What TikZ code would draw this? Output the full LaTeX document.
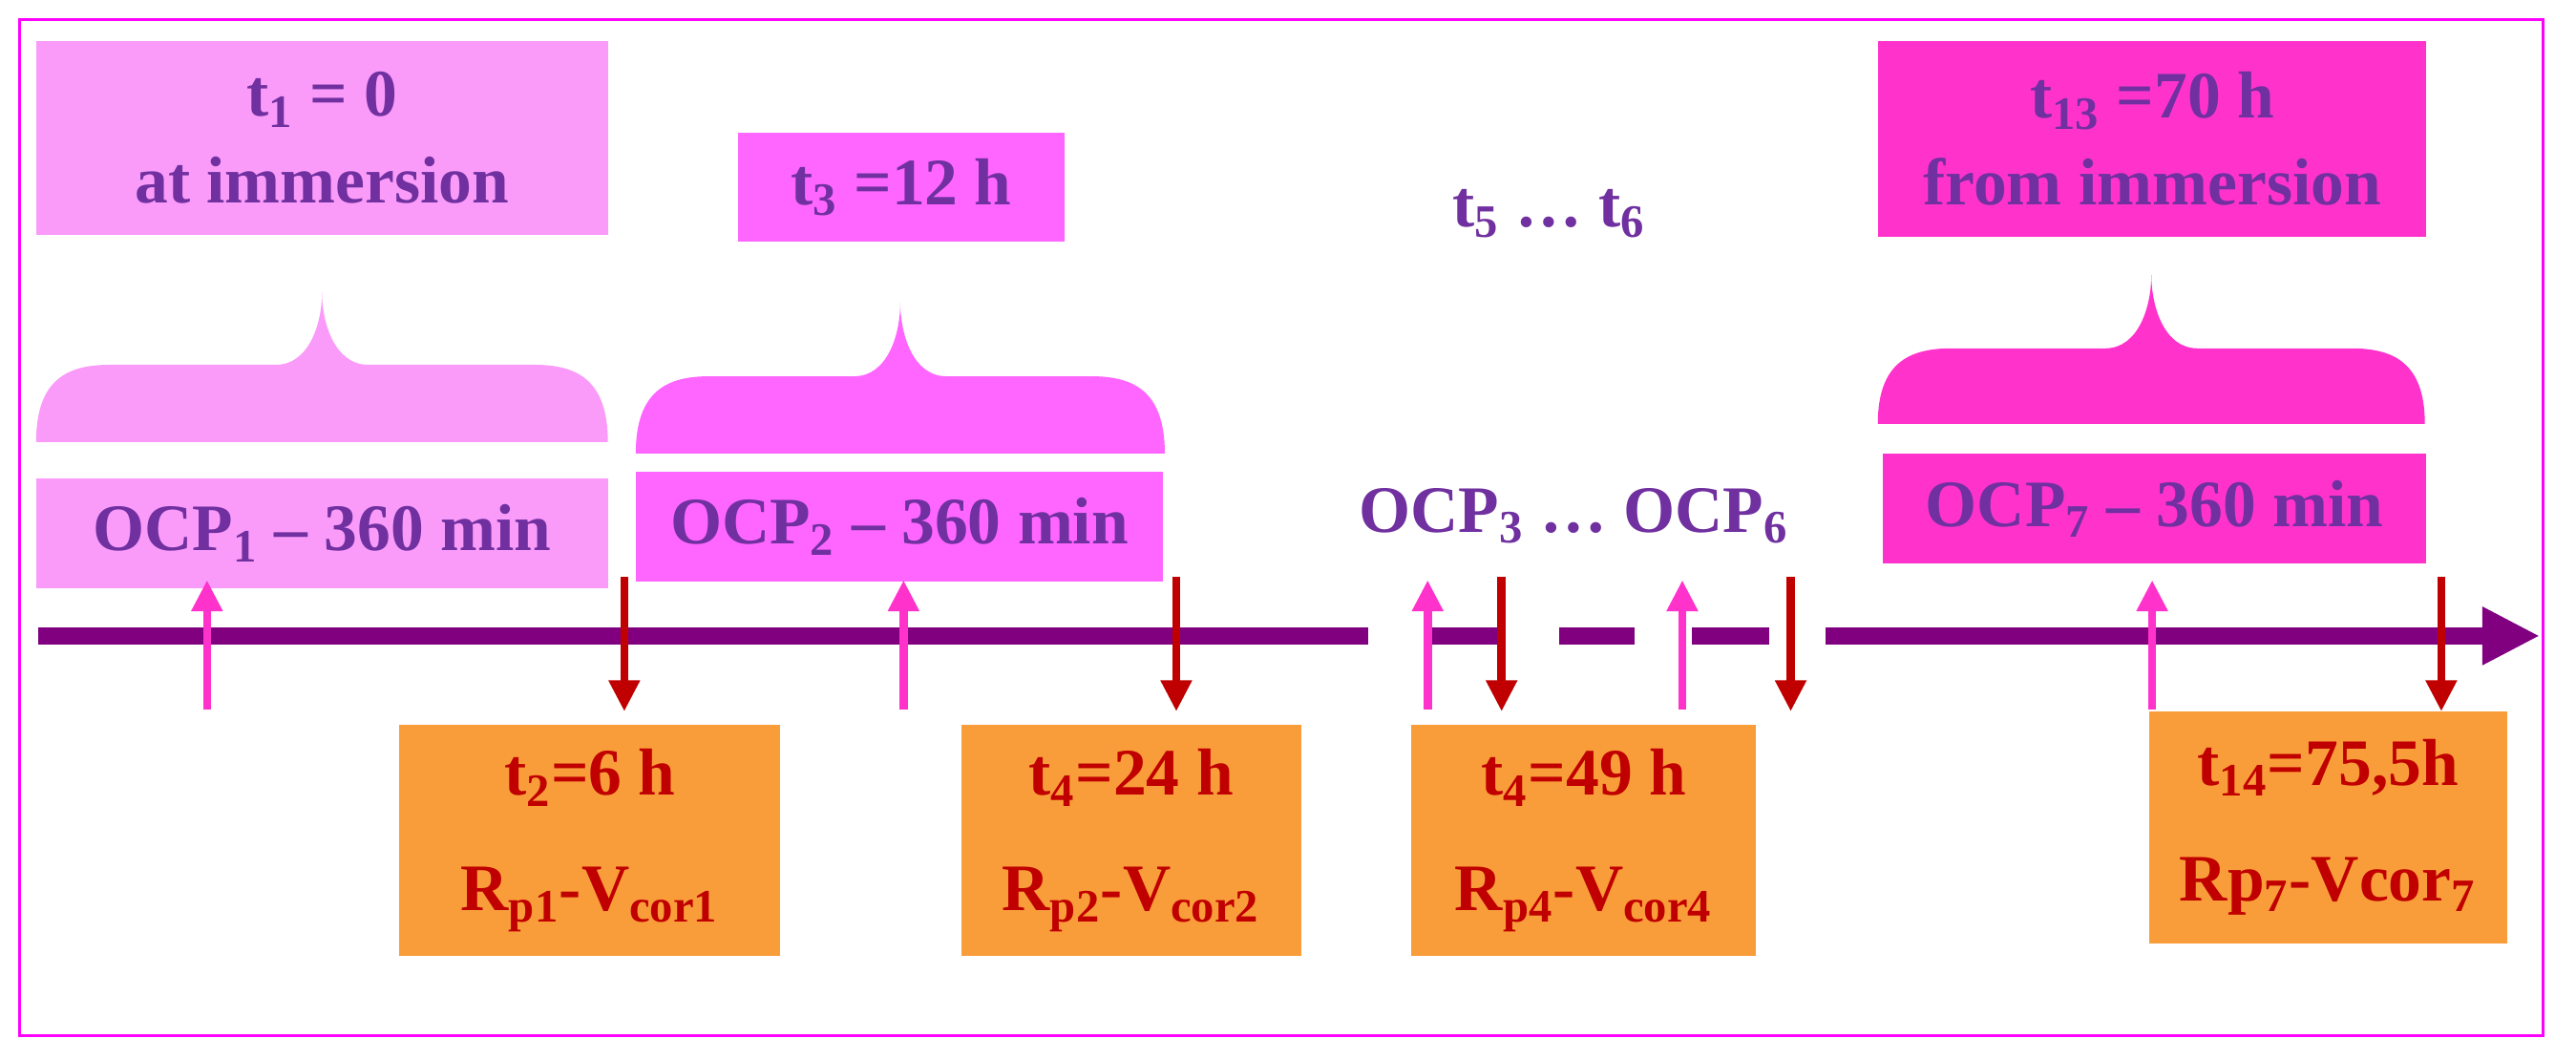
\documentclass[tikz,border=0pt]{standalone}
\usepackage{fontspec}
\setmainfont{Liberation Serif}
\usetikzlibrary{arrows.meta}
\definecolor{frameC}{HTML}{FF00FF}
\definecolor{lightP}{HTML}{FA9BF9}
\definecolor{midP}{HTML}{FF66FF}
\definecolor{hotP}{HTML}{FF33CC}
\definecolor{orangeC}{HTML}{F99D3A}
\definecolor{purpT}{HTML}{7030A0}
\definecolor{redT}{HTML}{C00000}
\definecolor{axisC}{HTML}{800080}
\tikzset{
  boxx/.style={inner sep=0pt, align=center, text=purpT, font=\bfseries\fontsize{23}{30}\selectfont},
  obox/.style={inner sep=0pt, align=center, fill=orangeC, text=redT, font=\bfseries\fontsize{23}{40}\selectfont, minimum height=2.82cm},
  uparr/.style={draw=hotP, line width=2.8pt, -{Triangle[width=0.36cm,length=0.38cm]}},
  dnarr/.style={draw=redT, line width=2.8pt, -{Triangle[width=0.36cm,length=0.38cm]}},
  axisl/.style={draw=axisC, line width=5.7pt},
  ptxt/.style={text=purpT, font=\bfseries\fontsize{23}{30}\selectfont, inner sep=0pt}
}
\newcommand{\mybrace}[6]{% fill, x0, x1, ytip, ytop, ybot
  \fill[#1] (#2,#6) .. controls (#2,#5+8) and (#2+20,#5) .. (#2+45,#5)
    -- ({(#2+#3)/2-28},#5) .. controls ({(#2+#3)/2-8},#5) and ({(#2+#3)/2},#5-25) .. ({(#2+#3)/2},#4)
    .. controls ({(#2+#3)/2},#5-25) and ({(#2+#3)/2+8},#5) .. ({(#2+#3)/2+28},#5)
    -- (#3-45,#5) .. controls (#3-20,#5) and (#3,#5+8) .. (#3,#6) -- cycle;}
\begin{document}
\begin{tikzpicture}[x=0.02cm,y=-0.02cm]
\useasboundingbox (0,0) rectangle (1568,645);
\draw[frameC, line width=1pt] (12,12) rectangle (1548,630);
% top boxes
\node[boxx, fill=lightP, minimum width=6.96cm, minimum height=2.36cm] (t1) at (196,84) {t\textsubscript{1} = 0\\at immersion};
\node[boxx, fill=midP, minimum width=3.98cm, minimum height=1.32cm] (t3) at (548.5,114) {t\textsubscript{3} =12 h};
\node[ptxt] (t56) at (943,130) {t\textsubscript{5} … t\textsubscript{6}};
\node[boxx, fill=hotP, minimum width=6.68cm, minimum height=2.38cm] (t13) at (1310,84.5) {t\textsubscript{13} =70 h\\from immersion};
% braces
\mybrace{lightP}{22}{370}{178}{222}{269}
\mybrace{midP}{387}{709}{184}{229}{276}
\mybrace{hotP}{1143}{1476}{167}{212}{258}
% OCP boxes
\node[boxx, fill=lightP, minimum width=6.96cm, minimum height=1.34cm] (ocp1) at (196,324.5) {OCP\textsubscript{1} – 360 min};
\node[boxx, fill=midP, minimum width=6.42cm, minimum height=1.34cm] (ocp2) at (547.5,320.5) {OCP\textsubscript{2} – 360 min};
\node[ptxt] (ocp36) at (958,314) {OCP\textsubscript{3} … OCP\textsubscript{6}};
\node[boxx, fill=hotP, minimum width=6.62cm, minimum height=1.34cm] (ocp7) at (1311.5,309.5) {OCP\textsubscript{7} – 360 min};
% axis
\coordinate (a0) at (23,387); \coordinate (a1) at (833,387);
\coordinate (a2) at (867,387); \coordinate (a3) at (913,387);
\coordinate (a4) at (949,387); \coordinate (a5) at (995,387);
\coordinate (a6) at (1030,387); \coordinate (a7) at (1077,387);
\coordinate (a8) at (1111,387); \coordinate (a9) at (1546,387);
\draw[axisl] (a0) -- (a1);
\draw[axisl] (a2) -- (a3);
\draw[axisl] (a4) -- (a5);
\draw[axisl] (a6) -- (a7);
\draw[axisl, -{Triangle[width=0.66cm,length=0.7cm]}] (a8) -- (a9);
% orange boxes
\node[obox, minimum width=4.64cm] (o1) at (359,511.5) {t\textsubscript{2}=6 h\\R\textsubscript{p1}-V\textsubscript{cor1}};
\node[obox, minimum width=4.14cm] (o2) at (688.5,511.5) {t\textsubscript{4}=24 h\\R\textsubscript{p2}-V\textsubscript{cor2}};
\node[obox, minimum width=4.2cm] (o3) at (964,511.5) {t\textsubscript{4}=49 h\\R\textsubscript{p4}-V\textsubscript{cor4}};
\node[obox, minimum width=4.36cm] (o4) at (1417,503.5) {t\textsubscript{14}=75,5h\\Rp\textsubscript{7}-Vcor\textsubscript{7}};
% arrows
\foreach \n/\x in {u1/126,u2/550,u3/869,u4/1024,u7/1310}{
  \coordinate (\n s) at (\x,432); \coordinate (\n e) at (\x,353);
  \draw[uparr] (\n s) -- (\n e);}
\foreach \n/\x in {d1/380,d2/716,d3/914,d6/1090,d7/1486}{
  \coordinate (\n s) at (\x,351); \coordinate (\n e) at (\x,433);
  \draw[dnarr] (\n s) -- (\n e);}
\end{tikzpicture}
\end{document}
